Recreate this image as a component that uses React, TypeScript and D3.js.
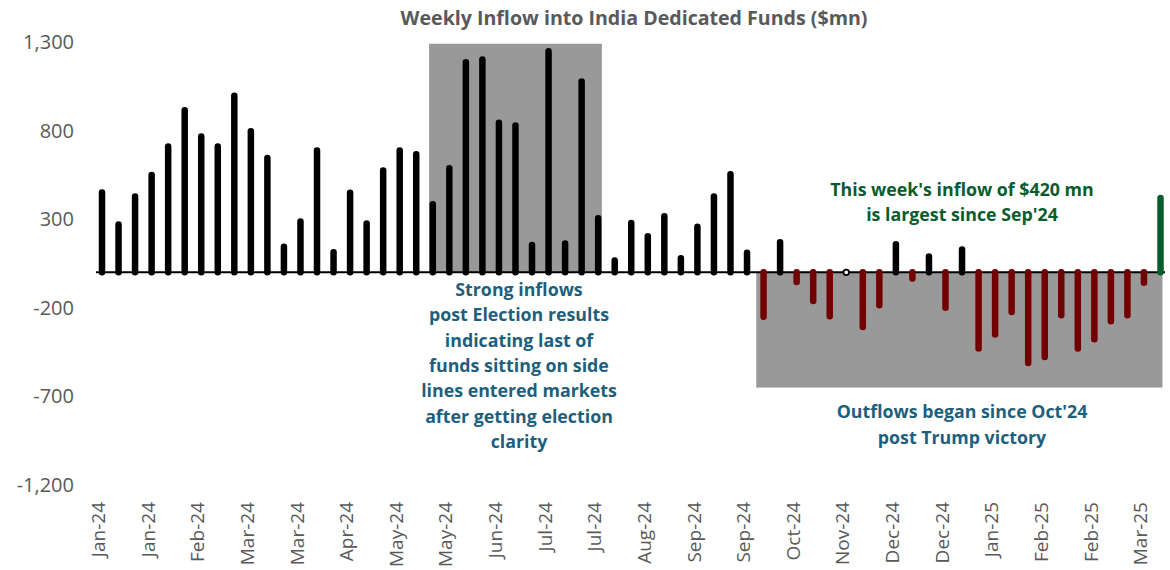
import * as d3 from 'd3'

// weekly buckets, Jan-24 .. Mar-25 (one label per week)
const weeks = [
  'Jan-24', 'Jan-24', 'Jan-24', 'Jan-24', 'Jan-24',
  'Feb-24', 'Feb-24', 'Feb-24', 'Feb-24',
  'Mar-24', 'Mar-24', 'Mar-24', 'Mar-24',
  'Apr-24', 'Apr-24', 'Apr-24', 'Apr-24', 'Apr-24',
  'May-24', 'May-24', 'May-24', 'May-24',
  'Jun-24', 'Jun-24', 'Jun-24', 'Jun-24',
  'Jul-24', 'Jul-24', 'Jul-24', 'Jul-24', 'Jul-24',
  'Aug-24', 'Aug-24', 'Aug-24', 'Aug-24',
  'Sep-24', 'Sep-24', 'Sep-24', 'Sep-24', 'Sep-24',
  'Oct-24', 'Oct-24', 'Oct-24', 'Oct-24',
  'Nov-24', 'Nov-24', 'Nov-24', 'Nov-24',
  'Dec-24', 'Dec-24', 'Dec-24', 'Dec-24', 'Dec-24',
  'Jan-25', 'Jan-25', 'Jan-25', 'Jan-25',
  'Feb-25', 'Feb-25', 'Feb-25', 'Feb-25',
  'Mar-25', 'Mar-25', 'Mar-25', 'Mar-25',
]

// weekly inflow, $mn
const flows = [
  450, 270, 428, 550, 710, 915, 767, 710, 996, 797,
  646, 144, 287, 688, 114, 449, 276, 575, 688, 667,
  385, 588, 1186, 1201, 844, 829, 155, 1248, 163, 1077,
  306, 67, 278, 204, 317, 80, 257, 428, 553, 110,
  -251, 170, -54, -161, -248, 0, -308, -186, 158, -35,
  90, -200, 129, -430, -351, -223, -511, -477, -242, -430,
  -378, -276, -242, -59, 420,
]

const yTicks = [1300, 800, 300, -200, -700, -1200]

// shaded periods (week index ranges)
const shades = [
  { from: 20, to: 30, top: 1290, bottom: 0 },
  { from: 40, to: 64, top: 0, bottom: -650 },
]

const electionNote = [
  'Strong inflows',
  'post Election results',
  'indicating last of',
  'funds sitting on side',
  'lines entered markets',
  'after getting election',
  'clarity',
]
const outflowNote = ["Outflows began since Oct'24", 'post Trump victory']
const latestNote = ["This week's inflow of $420 mn", "is largest since Sep'24"]

const width = 1170
const height = 570
const font = '"Open Sans", "Noto Sans", sans-serif'

export default function App() {
  const x = d3.scaleLinear().domain([0, weeks.length - 1]).range([102, 1160.5])
  const y = d3.scaleLinear().domain([-1200, 1300]).range([485, 42])
  const last = flows.length - 1
  const fmt = (t: number) => d3.format(',')(t).replace('−', '-')

  const barColor = (v: number, i: number) =>
    i === last ? '#0a5c2c' : v < 0 ? '#730000' : '#000'

  return (
    <svg width={width} height={height} style={{ position: 'absolute', left: 0, top: 0 }}>
      <text x={634} y={25} textAnchor="middle" fontFamily={font} fontWeight="bold" fontSize={19.6} fill="#595959">
        Weekly Inflow into India Dedicated Funds ($mn)
      </text>

      {shades.map((s, i) => (
        <rect
          key={i}
          x={x(s.from) - (i === 0 ? 3.7 : 7.3)}
          width={x(s.to) - x(s.from) + (i === 0 ? 7.4 : 9.3)}
          y={y(s.top)}
          height={y(s.bottom) - y(s.top)}
          fill="#999999"
        />
      ))}

      {yTicks.map(t => (
        <text key={t} x={74} y={y(t)} dy="0.35em" textAnchor="end" fontFamily={font} fontSize={20} fill="#595959">
          {fmt(t)}
        </text>
      ))}

      <line x1={96} x2={1165} y1={y(0)} y2={y(0)} stroke="#000" strokeWidth={2} />

      {flows.map((v, i) =>
        v === 0 ? (
          <circle key={i} cx={x(i)} cy={y(0)} r={2.8} fill="#fff" stroke="#000" strokeWidth={1.8} />
        ) : (
          <line
            key={i}
            x1={x(i)}
            x2={x(i)}
            y1={y(0)}
            y2={y(v)}
            stroke={barColor(v, i)}
            strokeWidth={6.5}
            strokeLinecap="round"
          />
        )
      )}

      {weeks.map((w, i) =>
        i % 3 === 0 ? (
          <text
            key={i}
            transform={`translate(${x(i) - 3.5},502) rotate(-90)`}
            textAnchor="end"
            dy="0.35em"
            fontFamily={font}
            fontSize={19}
            fill="#595959"
          >
            {w}
          </text>
        ) : null
      )}

      {electionNote.map((t, i) => (
        <text key={t} x={519} y={296 + i * 25.3} textAnchor="middle" fontFamily={font} fontWeight="bold" fontSize={17.8} fill="#1d5f7c">
          {t}
        </text>
      ))}
      {outflowNote.map((t, i) => (
        <text key={t} x={962} y={418 + i * 25.5} textAnchor="middle" fontFamily={font} fontWeight="bold" fontSize={17.8} fill="#1d5f7c">
          {t}
        </text>
      ))}
      {latestNote.map((t, i) => (
        <text key={t} x={962} y={196 + i * 25} textAnchor="middle" fontFamily={font} fontWeight="bold" fontSize={17.8} fill="#0a5c2c">
          {t}
        </text>
      ))}
    </svg>
  )
}
